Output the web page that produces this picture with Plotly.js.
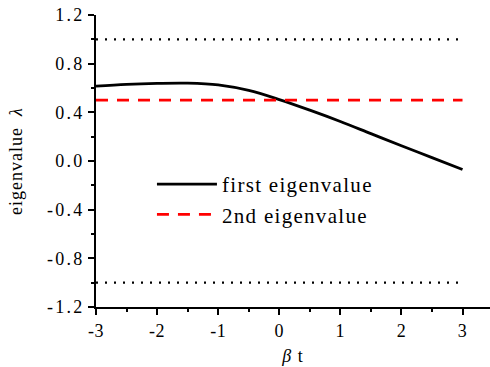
<!DOCTYPE html>
<html><head><meta charset="utf-8">
<script src="https://cdn.plot.ly/plotly-3.0.1.min.js"></script>
<style>
body{margin:0;background:#fff}
.ytick text{letter-spacing:2.2px}
.xtick text{letter-spacing:0.5px}
text.legendtext{letter-spacing:1.3px}
text.ytitle, text.xtitle{letter-spacing:1px}
</style>
</head><body>
<div id="chart" style="width:490px;height:367px"></div>
<script>
const betaT = [-3, -2.5, -2, -1.5, -1, -0.5, 0, 0.5, 1, 1.5, 2, 2.5, 3];
const firstEig = [0.615, 0.630, 0.638, 0.640, 0.626, 0.580, 0.505, 0.418, 0.325, 0.225, 0.125, 0.028, -0.07];
const secondEig = [0.5, 0.5, 0.5, 0.5, 0.5, 0.5, 0.5, 0.5, 0.5, 0.5, 0.5, 0.5, 0.5];
const boundX = [-3, 3];
const upperBound = [1, 1];
const lowerBound = [-1, -1];
const yTickVals = [-1.2, -0.8, -0.4, 0.0, 0.4, 0.8, 1.2];
const yTickText = ['-1.2', '-0.8', '-0.4', '0.0', '0.4', '0.8', '1.2'];
const xTickVals = [-3, -2, -1, 0, 1, 2, 3];
const xTickText = ['-3', '-2', '-1', '0', '1', '2', '3'];

const font = 'Liberation Serif';
const traces = [
  {x: boundX, y: upperBound, mode: 'lines', line: {color: '#000', width: 2.2, dash: '2px,7px'}, showlegend: false},
  {x: boundX, y: lowerBound, mode: 'lines', line: {color: '#000', width: 2.2, dash: '2px,7px'}, showlegend: false},
  {x: betaT, y: firstEig, mode: 'lines', name: 'first eigenvalue', line: {color: '#000', width: 2.8, shape: 'spline'}},
  {x: betaT, y: secondEig, mode: 'lines', name: '2nd eigenvalue', line: {color: '#ff0000', width: 2.8, dash: '12px,9px'}}
];
const layout = {
  width: 490, height: 367,
  margin: {l: 96, r: 0, t: 15, b: 60},
  paper_bgcolor: '#fff', plot_bgcolor: '#fff',
  font: {family: font, size: 18, color: '#000'},
  showlegend: true,
  legend: {x: 0.142, y: 0.49, xanchor: 'left', yanchor: 'top', bgcolor: 'rgba(0,0,0,0)',
           font: {family: font, size: 21, color: '#000'}, tracegroupgap: 0, itemwidth: 60},
  xaxis: {
    range: [-3, 3.45], showgrid: false, zeroline: false,
    showline: true, linecolor: '#000', linewidth: 2,
    ticks: 'outside', ticklen: 6, tickwidth: 2, tickcolor: '#000',
    tickmode: 'array', tickvals: xTickVals, ticktext: xTickText,
    minor: {tickmode: 'linear', dtick: 0.5, tick0: 0, ticks: 'outside', ticklen: 3, tickwidth: 2, tickcolor: '#000'},
    tickfont: {family: font, size: 18},
    title: {text: '<i>β</i> t', font: {family: font, size: 18}, standoff: 10}
  },
  yaxis: {
    range: [-1.2, 1.2], showgrid: false, zeroline: false,
    showline: true, linecolor: '#000', linewidth: 2,
    ticks: 'outside', ticklen: 6, tickwidth: 2, tickcolor: '#000',
    tickmode: 'array', tickvals: yTickVals, ticktext: yTickText,
    minor: {tickmode: 'linear', dtick: 0.2, tick0: 0, ticks: 'outside', ticklen: 3, tickwidth: 2, tickcolor: '#000'},
    tickfont: {family: font, size: 18},
    title: {text: 'eigenvalue  <i>λ</i>', font: {family: font, size: 18}, standoff: 20}
  }
};
Plotly.newPlot('chart', traces, layout, {displayModeBar: false, staticPlot: true});
</script>
</body></html>
